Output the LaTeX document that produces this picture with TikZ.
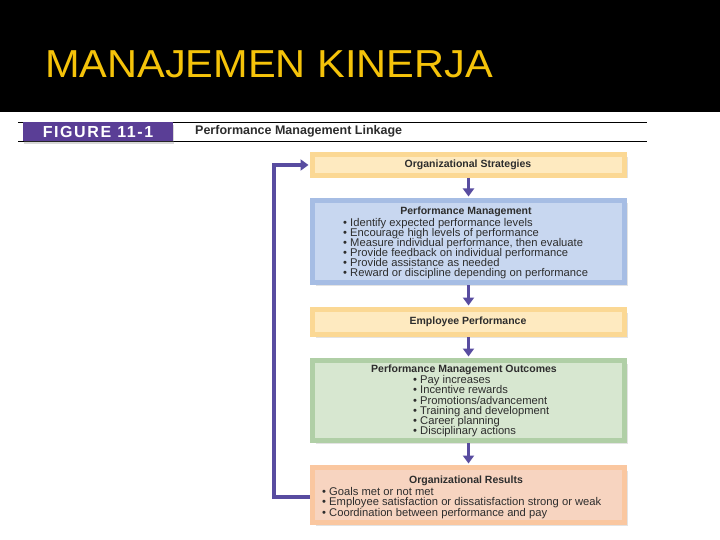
\documentclass[tikz,border=0pt]{standalone}
\usepackage{fontspec}
\setmainfont{Liberation Sans}
\newfontfamily\figfont{Liberation Sans}[LetterSpace=10]
\usetikzlibrary{arrows.meta,positioning,shadows}
\newcommand\tightlines{\lineskiplimit=-20pt\relax}
\definecolor{titleyel}{RGB}{245,195,10}
\definecolor{linkpurple}{RGB}{88,76,160}
\definecolor{figpurple}{RGB}{90,62,150}
\definecolor{orgfill}{RGB}{254,234,192}
\definecolor{orgedge}{RGB}{251,216,148}
\definecolor{pmfill}{RGB}{200,215,240}
\definecolor{pmedge}{RGB}{166,189,228}
\definecolor{outfill}{RGB}{215,231,208}
\definecolor{outedge}{RGB}{176,207,166}
\definecolor{resfill}{RGB}{247,212,192}
\definecolor{resedge}{RGB}{250,199,160}
\definecolor{txtgray}{RGB}{45,45,45}
\tikzset{
  panel/.style = {rectangle, line width=5pt, inner sep=0pt, minimum width=312pt,
                  drop shadow={opacity=0.22, shadow xshift=3pt, shadow yshift=-3pt}},
  ttl/.style   = {font=\fontsize{10.5}{11}\selectfont\bfseries, text=txtgray, inner sep=0pt},
  lst/.style   = {font=\fontsize{11.2}{10.1}\selectfont\tightlines, text=txtgray,
                  align=left, inner sep=0pt, anchor=north west},
  flow/.style  = {-{Triangle[length=8pt,width=11pt]}, line width=3.2pt, linkpurple,
                  shorten >=1.5pt},
  rule/.style  = {line width=0.8pt, black}
}

\begin{document}
\begin{tikzpicture}[x=1pt, y=-1pt]
\useasboundingbox (0,0) rectangle (720,540);
\fill[white] (0,0) rectangle (720,540);

% ---------- slide title ----------
\fill[black] (0,0) rectangle (720,112);
\node[anchor=base west, inner sep=0pt, text=titleyel] (title) at (45,78)
     {\scalebox{1.065}[1]{\fontsize{39}{39}\selectfont MANAJEMEN KINERJA}};

% ---------- figure header ----------
\draw[rule] (18,122.5) -- (647,122.5);
\draw[rule] (18,141) -- (647,141);
\node[fill=figpurple, minimum width=150pt, minimum height=18.5pt, inner sep=0pt,
      drop shadow={opacity=0.3, shadow xshift=1pt, shadow yshift=-3pt}] (fig) at (98,131.75)
     {\figfont\bfseries\fontsize{16}{16}\selectfont\color{white}FIGURE 11-1};
\node[anchor=west, inner sep=0pt, text=txtgray, font=\fontsize{12.5}{13}\selectfont\bfseries]
     (cap) at (195,131.5) {Performance Management Linkage};

% ---------- five panels ----------
\node[panel, fill=orgfill, draw=orgedge, minimum height=21pt] (strat) at (468.5,165) {};
\node[panel, fill=pmfill,  draw=pmedge,  minimum height=82pt] (pm)    at (468.5,241.5) {};
\node[panel, fill=orgfill, draw=orgedge, minimum height=25pt] (emp)   at (468.5,322) {};
\node[panel, fill=outfill, draw=outedge, minimum height=80pt] (out)   at (468.5,400.5) {};
\node[panel, fill=resfill, draw=resedge, minimum height=55pt] (res)   at (468.5,495) {};

% titles
\node[ttl] (stratT) at (468,165)   {Organizational Strategies};
\node[ttl] (pmT)    at (466,212)   {Performance Management};
\node[ttl] (empT)   at (468,322)   {Employee Performance};
\node[ttl] (outT)   at (464,370)   {Performance Management Outcomes};
\node[ttl] (resT)   at (466,481)   {Organizational Results};

% bullet lists
\node[lst] (pmL) at (343,218) {%
  \textbullet\ Identify expected performance levels\\
  \textbullet\ Encourage high levels of performance\\
  \textbullet\ Measure individual performance, then evaluate\\
  \textbullet\ Provide feedback on individual performance\\
  \textbullet\ Provide assistance as needed\\
  \textbullet\ Reward or discipline depending on performance};
\node[lst] (outL) at (413,375.5) {%
  \textbullet\ Pay increases\\
  \textbullet\ Incentive rewards\\
  \textbullet\ Promotions/advancement\\
  \textbullet\ Training and development\\
  \textbullet\ Career planning\\
  \textbullet\ Disciplinary actions};
\node[lst] (resL) at (322,487.5) {%
  \textbullet\ Goals met or not met\\
  \textbullet\ Employee satisfaction or dissatisfaction strong or weak\\
  \textbullet\ Coordination between performance and pay};

% ---------- arrows ----------
\draw[flow] (strat.south) -- (pm.north);
\draw[flow] (pm.south)    -- (emp.north);
\draw[flow] (emp.south)   -- (out.north);
\draw[flow] (out.south)   -- (res.north);

% feedback loop back to the strategies
\coordinate (loopb) at (274,497);
\draw[flow, line width=4pt] (res.west |- loopb) -- (loopb) |- (strat.west);

\end{tikzpicture}
\end{document}
